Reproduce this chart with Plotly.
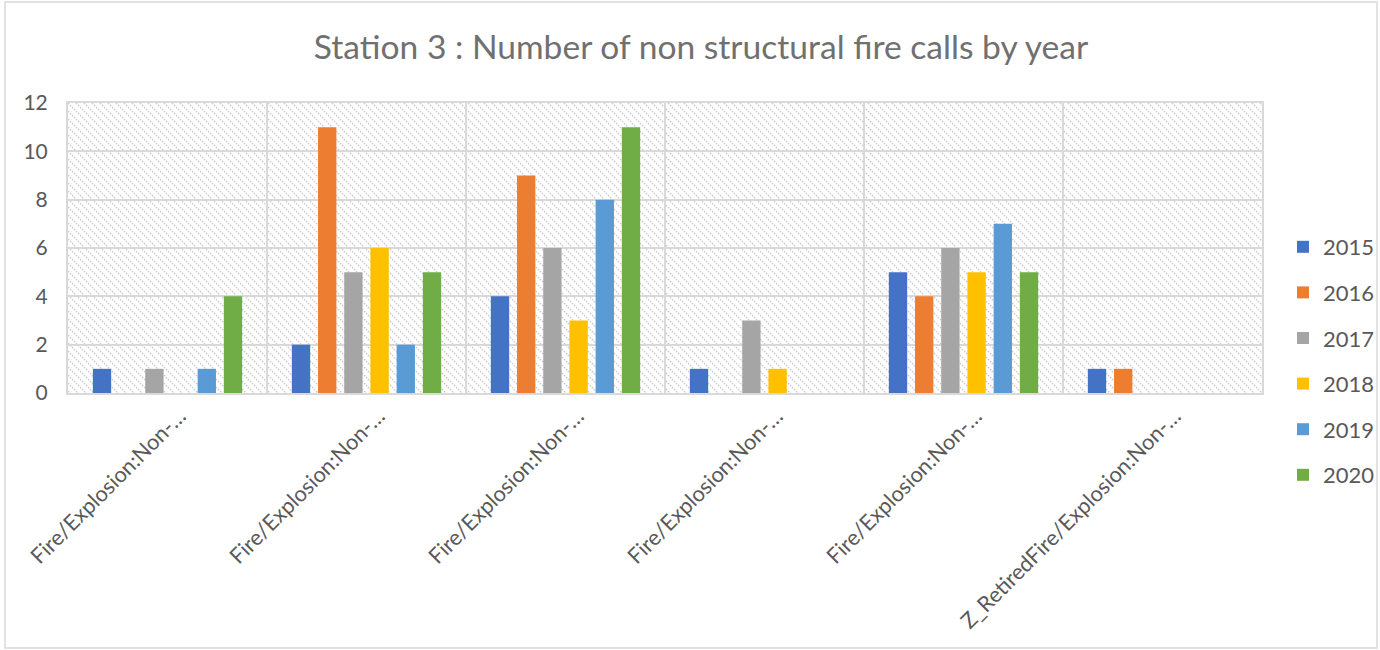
import plotly.graph_objects as go
import base64

categories = ["Fire/Explosion:Non-…"] * 5 + ["Z_RetiredFire/Explosion:Non-…"]
years = ["2015", "2016", "2017", "2018", "2019", "2020"]
v2015 = [1, 2, 4, 1, 5, 1]
v2016 = [0, 11, 9, 0, 4, 1]
v2017 = [1, 5, 6, 3, 6, 0]
v2018 = [0, 6, 3, 1, 5, 0]
v2019 = [1, 2, 8, 0, 7, 0]
v2020 = [4, 5, 11, 0, 5, 0]
series = [v2015, v2016, v2017, v2018, v2019, v2020]
colors = ["#4472C4", "#ED7D31", "#A5A5A5", "#FFC000", "#5B9BD5", "#70AD47"]

W, H = 1380, 650
L, R, T, B = 68, 118, 103, 257
pw, ph = W - L - R, H - T - B

svg = (f'<svg xmlns="http://www.w3.org/2000/svg" width="{pw}" height="{ph}" viewBox="0 0 {pw} {ph}">'
       '<defs><pattern id="p" patternUnits="userSpaceOnUse" width="8" height="8">'
       '<path d="M-2,-2 L10,10 M-2,6 L2,10 M6,-2 L10,2" stroke="#cdcdcd" stroke-width="1.3" '
       'stroke-dasharray="1.8,1.0"/></pattern></defs>'
       f'<rect width="{pw}" height="{ph}" fill="url(#p)"/></svg>')
uri = "data:image/svg+xml;base64," + base64.b64encode(svg.encode()).decode()

xs = list(range(len(categories)))
fig = go.Figure()
for y, vals, c in zip(years, series, colors):
    fig.add_trace(go.Bar(x=xs, y=vals, name=y, marker=dict(color=c, line=dict(width=0)),
                         legendgroup=y))

font = "Lato, 'Open Sans', sans-serif"
fig.update_layout(
    width=W, height=H,
    margin=dict(l=L, r=R, t=T, b=B, autoexpand=False),
    paper_bgcolor="white", plot_bgcolor="white",
    barmode="group", bargap=0.21, bargroupgap=0.3,
    title=dict(text="Station 3 : Number of non structural fire calls by year",
               x=701 / W, xref="container", y=1 - 47 / H, yref="container", yanchor="middle",
               xanchor="center",
               font=dict(family=font, size=33.6, color="#707070")),
    font=dict(family=font, color="#595959"),
    xaxis=dict(range=[-0.5, 5.5], tickmode="array", tickvals=xs, ticktext=categories,
               tickangle=-45, tickfont=dict(size=21.7, color="#595959"), automargin=False,
               showgrid=False, zeroline=False, showline=True, linecolor="#d9d9d9",
               linewidth=2, mirror=True, ticks="", ticklabelstandoff=0, ticklabelshift=12,
               minor=dict(tick0=-0.5, dtick=1, showgrid=True, gridcolor="#d9d9d9", gridwidth=2)),
    yaxis=dict(range=[0, 12], dtick=2, tickfont=dict(size=21, color="#595959"), automargin=False,
               showgrid=True, gridcolor="#d9d9d9", gridwidth=2, zeroline=False,
               showline=True, linecolor="#d9d9d9", linewidth=2, mirror=True, ticks="",
               ticklabelstandoff=14),
    legend=dict(x=1283 / W, xanchor="left", y=1 - 361 / H, yanchor="middle",
                xref="container", yref="container",
                font=dict(size=22, color="#595959"), tracegroupgap=14,
                itemwidth=30, bgcolor="rgba(0,0,0,0)"),
    images=[dict(source=uri, xref="paper", yref="paper", x=0, y=1, sizex=1, sizey=1,
                 xanchor="left", yanchor="top", sizing="stretch", layer="below")],
    shapes=[dict(type="rect", xref="paper", yref="paper",
                 x0=-(L - 5) / pw, x1=1 + (R - 3) / pw, y0=-(B - 2) / ph, y1=1 + (T - 2) / ph,
                 line=dict(color="#d9d9d9", width=1.5), fillcolor="rgba(0,0,0,0)", layer="below")],
)
fig.write_html("out.html", config={"displayModeBar": False},
               post_script="document.body.style.margin='0';")
